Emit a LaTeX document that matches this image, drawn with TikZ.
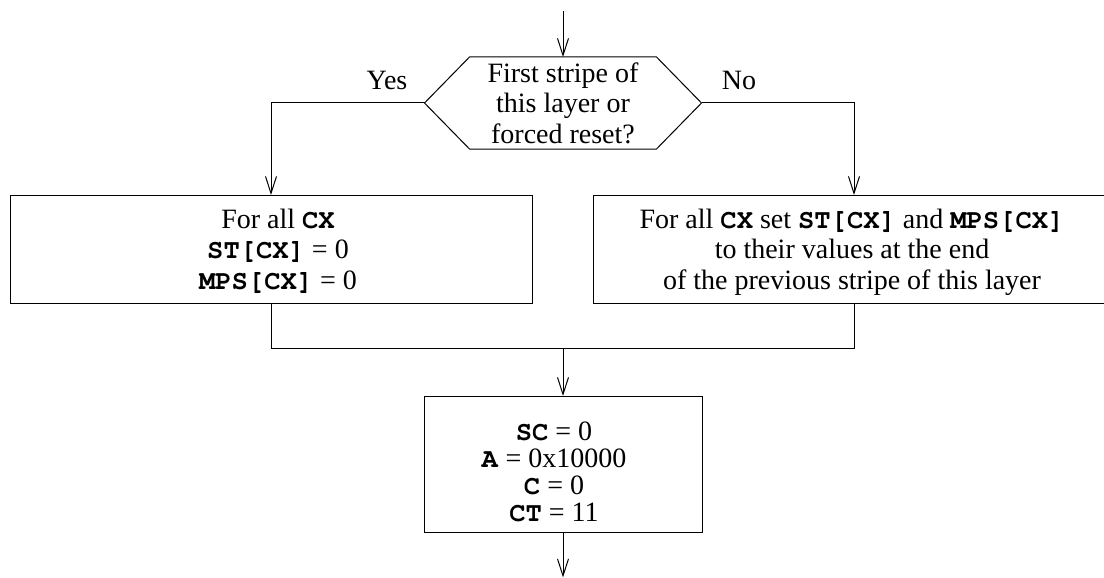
\documentclass[tikz,border=0pt]{standalone}
\usepackage{fontspec}
\setmainfont{Liberation Serif}
\setmonofont{texgyrecursor}[Extension=.otf, UprightFont=*-regular, BoldFont=*-bold, Scale=0.97]
\usetikzlibrary{arrows.meta}
% bold typewriter for variable names
\newcommand{\var}[1]{\texttt{\bfseries #1}}

\begin{document}
\begin{tikzpicture}[x=1pt, y=-1pt, line width=1pt,
  every node/.style={inner sep=0pt, outer sep=0pt},
  % multi-line text is placed by the baseline of its last line
  txt/.style={font=\fontsize{28}{30.5}\selectfont, align=center, anchor=base},
  frame/.style={draw, minimum width=#1},
  flow/.style={-{Straight Barb[length=17pt, width=11pt, line width=1pt]}}]

  \clip (0,0) rectangle (1104,578);
  \useasboundingbox (0,0) rectangle (1104,578);

  % decision
  \node (q) [minimum width=277, minimum height=92] at (563,103) {};
  \draw (q.west) -- ([xshift=45]q.north west) -- ([xshift=-45]q.north east)
        -- (q.east) -- ([xshift=-45]q.south east) -- ([xshift=45]q.south west) -- cycle;
  \node (qt) [txt] at (563,143) {First stripe of\\this layer or\\forced reset?};

  % branch boxes
  \node (lbox) [frame=522, minimum height=108] at (271,249) {};
  \node (lt) [txt] at (278,289) {For all \var{CX}\\\var{ST[CX]} = 0\\\var{MPS[CX]} = 0};

  \node (rbox) [frame=522, minimum height=108] at (854,249) {};
  \node (rt) [txt] at (852,289) {For all \var{CX} set \var{ST[CX]} and \var{MPS[CX]}\\to their values at the end\\of the previous stripe of this layer};

  % initialisation box
  \node (cbox) [frame=278, minimum height=136] at (563,464) {};
  \node (ct) [txt, font=\fontsize{28}{27}\selectfont] at (554,521) {\var{SC} = 0\\\var{A} = 0x10000\\\var{C} = 0\\\var{CT} = 11};

  % branch labels
  \node (yes) [txt] at (387,89) {Yes};
  \node (no)  [txt] at (739,89) {No};

  % connectors
  \coordinate (in) at (563,11);
  \coordinate (join) at (563,348);
  \coordinate (out) at (563,577.5);

  \draw[flow] (in) -- (q.north);
  \draw[flow] (q.west) -| (lbox.north);
  \draw[flow] (q.east) -| (rbox.north);
  \draw (lbox.south) -- (lbox.south |- join) -- (rbox.south |- join) -- (rbox.south);
  \draw[flow] (join) -- (cbox.north);
  \draw[flow] (cbox.south) -- (out);
\end{tikzpicture}
\end{document}
